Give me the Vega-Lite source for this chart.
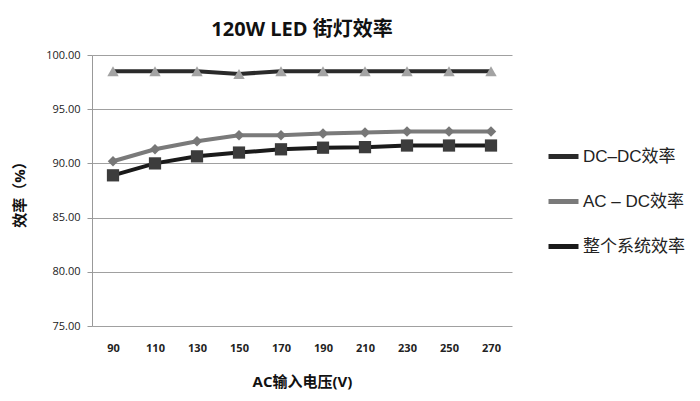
{
  "$schema": "https://vega.github.io/schema/vega-lite/v6.json",
  "width": 420,
  "height": 271,
  "autosize": {"type": "none"},
  "padding": {"left": 92, "top": 55, "right": 188, "bottom": 75},
  "background": "white",
  "config": {
    "font": "Open Sans, Noto Sans CJK SC",
    "view": {"stroke": null}
  },
  "title": {
    "text": "120W LED 街灯效率",
    "font": "Open Sans, Noto Sans CJK SC",
    "fontSize": 20,
    "fontWeight": "bold",
    "color": "#111",
    "anchor": "middle",
    "offset": 9
  },
  "data": {
    "values": [
      {"v": 90, "s": "DC–DC效率", "e": 98.5},
      {"v": 110, "s": "DC–DC效率", "e": 98.5},
      {"v": 130, "s": "DC–DC效率", "e": 98.5},
      {"v": 150, "s": "DC–DC效率", "e": 98.25},
      {"v": 170, "s": "DC–DC效率", "e": 98.5},
      {"v": 190, "s": "DC–DC效率", "e": 98.5},
      {"v": 210, "s": "DC–DC效率", "e": 98.5},
      {"v": 230, "s": "DC–DC效率", "e": 98.5},
      {"v": 250, "s": "DC–DC效率", "e": 98.5},
      {"v": 270, "s": "DC–DC效率", "e": 98.5},
      {"v": 90, "s": "AC – DC效率", "e": 90.2},
      {"v": 110, "s": "AC – DC效率", "e": 91.3},
      {"v": 130, "s": "AC – DC效率", "e": 92.05},
      {"v": 150, "s": "AC – DC效率", "e": 92.6},
      {"v": 170, "s": "AC – DC效率", "e": 92.6},
      {"v": 190, "s": "AC – DC效率", "e": 92.75},
      {"v": 210, "s": "AC – DC效率", "e": 92.85},
      {"v": 230, "s": "AC – DC效率", "e": 92.95},
      {"v": 250, "s": "AC – DC效率", "e": 92.95},
      {"v": 270, "s": "AC – DC效率", "e": 92.95},
      {"v": 90, "s": "整个系统效率", "e": 88.9},
      {"v": 110, "s": "整个系统效率", "e": 90.0},
      {"v": 130, "s": "整个系统效率", "e": 90.65},
      {"v": 150, "s": "整个系统效率", "e": 91.0},
      {"v": 170, "s": "整个系统效率", "e": 91.3},
      {"v": 190, "s": "整个系统效率", "e": 91.45},
      {"v": 210, "s": "整个系统效率", "e": 91.5},
      {"v": 230, "s": "整个系统效率", "e": 91.65},
      {"v": 250, "s": "整个系统效率", "e": 91.65},
      {"v": 270, "s": "整个系统效率", "e": 91.65}
    ]
  },
  "encoding": {
    "x": {
      "field": "v",
      "type": "ordinal",
      "scale": {"type": "point", "padding": 0.5},
      "axis": {
        "title": "AC输入电压(V)",
        "titleFontSize": 15,
        "titleFontWeight": "bold",
        "titleColor": "#111",
        "titlePadding": 21,
        "labelAngle": 0,
        "labelFontSize": 11,
        "labelFontWeight": "bold",
        "labelColor": "#222",
        "labelPadding": 16,
        "ticks": false,
        "domain": false,
        "grid": false
      }
    },
    "y": {
      "field": "e",
      "type": "quantitative",
      "scale": {"domain": [75, 100], "nice": false, "zero": false},
      "axis": {
        "title": "效率（%）",
        "titleFontSize": 15,
        "titleFontWeight": "bold",
        "titleColor": "#111",
        "titlePadding": 18,
        "values": [75, 80, 85, 90, 95, 100],
        "format": ".2f",
        "labelFontSize": 11,
        "labelColor": "#222",
        "labelPadding": 7,
        "tickSize": 5,
        "tickColor": "#999",
        "domainColor": "#999",
        "gridColor": "#a0a0a0",
        "gridWidth": 1
      }
    }
  },
  "layer": [
    {
      "mark": {"type": "line", "strokeWidth": 4},
      "encoding": {
        "color": {
          "field": "s",
          "type": "nominal",
          "sort": ["DC–DC效率", "AC – DC效率", "整个系统效率"],
          "scale": {
            "domain": ["DC–DC效率", "AC – DC效率", "整个系统效率"],
            "range": ["#2a2a2a", "#7a7a7a", "#1a1a1a"]
          },
          "legend": {
            "title": null,
            "orient": "none",
            "legendX": 454,
            "legendY": 84,
            "symbolType": "stroke",
            "symbolSize": 900,
            "symbolStrokeWidth": 5,
            "labelFontSize": 17,
            "labelColor": "#222",
            "labelFont": "Liberation Sans, Noto Sans CJK SC",
            "rowPadding": 17,
            "labelOffset": 2
          }
        }
      }
    },
    {
      "transform": [{"filter": "datum.s === 'DC–DC效率'"}],
      "mark": {"type": "point", "shape": "triangle-up", "filled": true, "size": 130, "color": "#a3a3a3", "opacity": 1}
    },
    {
      "transform": [{"filter": "datum.s === 'AC – DC效率'"}],
      "mark": {"type": "point", "shape": "diamond", "filled": true, "size": 110, "color": "#777777", "opacity": 1}
    },
    {
      "transform": [{"filter": "datum.s === '整个系统效率'"}],
      "mark": {"type": "point", "shape": "square", "filled": true, "size": 150, "color": "#3c3c3c", "opacity": 1}
    }
  ]
}
